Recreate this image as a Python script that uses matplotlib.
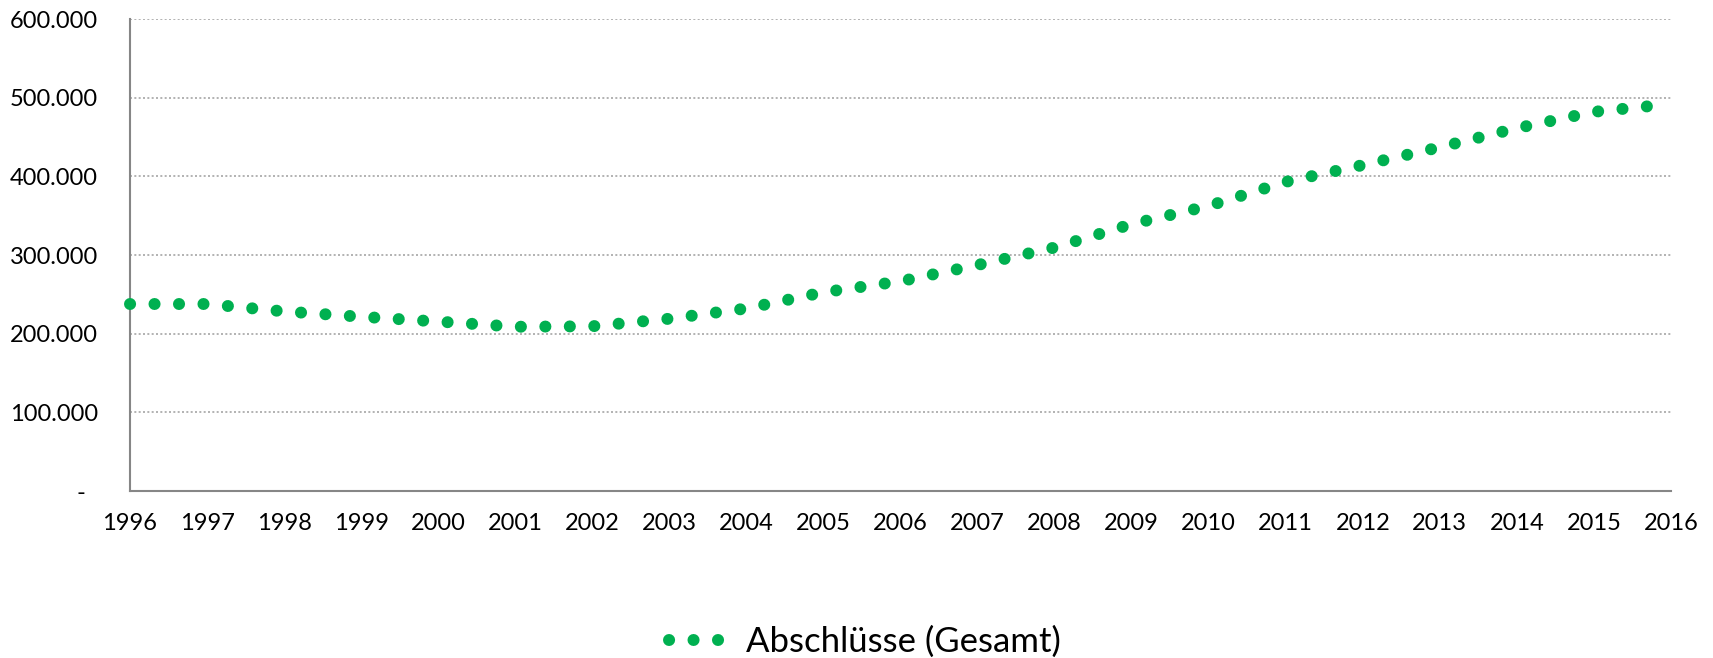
import numpy as np
import matplotlib
matplotlib.use("Agg")
import matplotlib.pyplot as plt
from matplotlib.ticker import FuncFormatter

# Abschlüsse (Gesamt), in 1.000
years = [1996, 1997, 1998, 1999, 2000, 2001, 2002, 2003, 2004, 2005, 2006,
         2007, 2008, 2009, 2010, 2011, 2012, 2013, 2014, 2015, 2016]
abschluesse = [237.7, 237.7, 228.3, 221.5, 215.4, 208.8, 209.4, 219.0, 232.0,
               252.6, 266.6, 287.3, 309.5, 339.2, 362.4, 393.0, 414.3, 437.0,
               461.2, 482.0, 492.0]
series_name = 'Abschlüsse (Gesamt)'
y_ticks = [0, 100, 200, 300, 400, 500, 600]

plt.rcParams['font.family'] = ['Lato', 'DejaVu Sans']

fig = plt.figure(figsize=(17.13, 6.58), dpi=100)
ax = fig.add_axes([130 / 1713, 1 - 491 / 658, (1671 - 130) / 1713, (491 - 19) / 658])

vals = np.array(abschluesse) * 1000
lw = 12 * 72 / 100
ax.plot(years, vals, color='#00B050', lw=lw, linestyle=(0, (0.01, 2.03)),
        dash_capstyle='round', solid_capstyle='round', label=series_name,
        clip_on=False, zorder=3)

ax.set_xlim(1996, 2016)
ax.set_ylim(0, 600000)
ax.set_xticks(years)
ax.set_yticks([v * 1000 for v in y_ticks])

def fmt(v, pos):
    if v == 0:
        return '-  '
    return '{:,.0f}'.format(v).replace(',', '.')

ax.yaxis.set_major_formatter(FuncFormatter(fmt))
ax.tick_params(axis='both', length=0, labelsize=17, colors='black')
ax.tick_params(axis='y', pad=23)
ax.tick_params(axis='x', pad=16)

ax.grid(axis='y', color='#A6A6A6', lw=1.2, linestyle=(0, (1.2, 1.4)))
ax.set_axisbelow(True)
for s in ['top', 'right']:
    ax.spines[s].set_visible(False)
for s in ['left', 'bottom']:
    ax.spines[s].set_color('#868686')
    ax.spines[s].set_linewidth(1.5)

fig.legend(loc='center', bbox_to_anchor=(0.505, 1 - 642 / 658), frameon=False,
           fontsize=25, handlelength=1.45, handletextpad=0.75)

fig.savefig('out.png', dpi=100)
